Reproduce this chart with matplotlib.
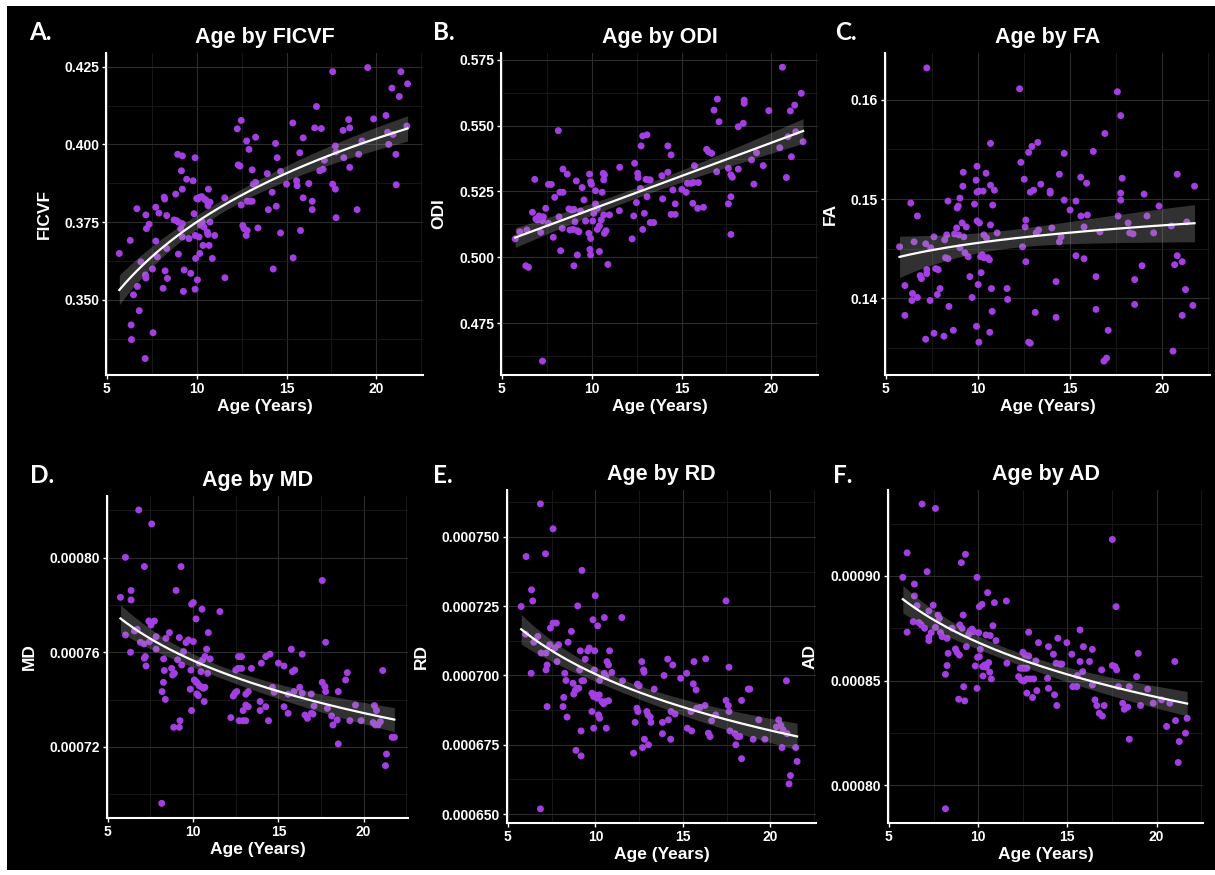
import numpy as np
import matplotlib
matplotlib.use('Agg')
import matplotlib.pyplot as plt
from matplotlib.patches import Rectangle
from matplotlib.ticker import MultipleLocator, FormatStrFormatter

# Points: (age in years, metric value)
ficvf_pts = [
    (5.69, 0.3649), (6.30, 0.3691), (6.48, 0.3516), (6.35, 0.3419), (6.37, 0.3372), (6.67, 0.3793),
    (6.70, 0.3543), (6.80, 0.3465), (6.89, 0.3622), (7.13, 0.3311), (7.17, 0.3773), (7.20, 0.3729),
    (7.35, 0.3743), (7.15, 0.3580), (7.17, 0.3570), (7.54, 0.3599), (7.57, 0.3394), (7.72, 0.3798),
    (7.72, 0.3689), (7.81, 0.3638), (7.90, 0.3779), (8.13, 0.3537), (8.19, 0.3830), (8.22, 0.3824),
    (8.24, 0.3593), (8.33, 0.3771), (8.37, 0.3569), (8.33, 0.3665), (8.74, 0.3757), (8.87, 0.3755),
    (8.98, 0.3750), (8.83, 0.3840), (8.94, 0.3968), (8.98, 0.3647), (9.11, 0.3729), (9.15, 0.3915),
    (9.20, 0.3963), (9.20, 0.3856), (9.20, 0.3745), (9.20, 0.3702), (9.26, 0.3527), (9.30, 0.3596),
    (9.44, 0.3888), (9.57, 0.3697), (9.67, 0.3585), (9.80, 0.3883), (9.91, 0.3957), (9.85, 0.3777),
    (9.91, 0.3707), (9.94, 0.3633), (9.91, 0.3534), (10.00, 0.3826), (10.07, 0.3824), (10.17, 0.3830),
    (10.28, 0.3832), (10.04, 0.3564), (10.13, 0.3702), (10.17, 0.3649), (10.22, 0.3740), (10.31, 0.3750),
    (10.41, 0.3734), (10.35, 0.3675), (10.44, 0.3824), (10.54, 0.3819), (10.59, 0.3718), (10.63, 0.3710),
    (10.65, 0.3856), (10.63, 0.3803), (10.69, 0.3675), (10.74, 0.3750), (10.74, 0.3814), (10.87, 0.3633),
    (11.00, 0.3707), (11.56, 0.3828), (11.57, 0.3571), (12.26, 0.4050), (12.31, 0.3934), (12.41, 0.3930),
    (12.48, 0.4077), (12.48, 0.3805), (12.57, 0.3739), (12.63, 0.3729), (12.78, 0.4011), (12.76, 0.3707),
    (12.81, 0.3723), (12.91, 0.3984), (12.81, 0.3817), (12.96, 0.3817), (13.09, 0.3817), (13.09, 0.3918),
    (13.15, 0.3872), (13.28, 0.3878), (13.28, 0.4023), (13.41, 0.3731), (13.93, 0.3906), (13.99, 0.3790),
    (14.20, 0.3846), (14.26, 0.3599), (14.39, 0.4003), (14.43, 0.3801), (14.48, 0.3957), (14.67, 0.3913),
    (14.67, 0.3715), (15.00, 0.3872), (15.35, 0.4069), (15.37, 0.3635), (15.56, 0.3883), (15.59, 0.3867),
    (15.74, 0.3973), (15.78, 0.3723), (15.93, 0.4021), (15.93, 0.3828), (16.24, 0.3874), (16.43, 0.3817),
    (16.43, 0.3790), (16.57, 0.4053), (16.67, 0.4122), (16.85, 0.3915), (16.94, 0.4051), (17.04, 0.3920),
    (17.11, 0.3949), (17.57, 0.4234), (17.57, 0.3872), (17.72, 0.3856), (17.72, 0.3995), (17.76, 0.3976),
    (17.76, 0.3764), (18.15, 0.4045), (18.19, 0.3957), (18.46, 0.4080), (18.52, 0.4053), (18.52, 0.3926),
    (18.93, 0.3790), (19.02, 0.3968), (19.20, 0.4011), (19.52, 0.4247), (19.85, 0.4082), (20.54, 0.4093),
    (20.63, 0.4039), (20.69, 0.4000), (20.87, 0.4181), (20.93, 0.4032), (21.09, 0.3968), (21.11, 0.3870),
    (21.28, 0.4154), (21.37, 0.4234), (21.74, 0.4195), (21.70, 0.4059),
]

odi_pts = [
    (5.74, 0.5070), (6.00, 0.5097), (6.33, 0.4968), (6.48, 0.4962), (6.39, 0.5104), (6.70, 0.5171),
    (6.83, 0.5296), (6.89, 0.5146), (6.98, 0.5142), (7.07, 0.5157), (7.16, 0.5152), (7.25, 0.5139),
    (7.31, 0.5154), (7.16, 0.5095), (7.44, 0.5186), (7.59, 0.5277), (7.75, 0.5277), (7.59, 0.5129),
    (7.86, 0.5076), (7.94, 0.5228), (8.14, 0.5481), (8.18, 0.5154), (8.23, 0.5247), (8.40, 0.5247),
    (8.27, 0.5025), (8.36, 0.5110), (8.40, 0.5335), (8.64, 0.5316), (8.73, 0.5184), (8.88, 0.5180),
    (9.01, 0.5182), (8.79, 0.5104), (8.97, 0.5106), (9.07, 0.5135), (9.14, 0.5290), (9.20, 0.5009),
    (9.01, 0.4968), (9.20, 0.5101), (9.29, 0.5097), (9.38, 0.5176), (9.47, 0.5265), (9.57, 0.5218),
    (9.66, 0.5138), (9.84, 0.5091), (9.94, 0.5072), (9.88, 0.5316), (9.94, 0.5287), (9.99, 0.5277),
    (9.90, 0.5030), (9.94, 0.5009), (10.06, 0.5138), (10.12, 0.5167), (10.21, 0.5253), (10.21, 0.5203),
    (10.31, 0.5186), (10.31, 0.5106), (10.43, 0.5022), (10.43, 0.5120), (10.53, 0.5142), (10.58, 0.5247),
    (10.64, 0.5319), (10.71, 0.5313), (10.67, 0.5294), (10.67, 0.5161), (10.71, 0.5091), (10.80, 0.5101),
    (10.90, 0.4973), (10.99, 0.5161), (11.54, 0.5177), (11.56, 0.5342), (12.25, 0.5070), (12.34, 0.5157),
    (12.39, 0.5357), (12.49, 0.5208), (12.56, 0.5319), (12.58, 0.5303), (12.71, 0.5262), (12.75, 0.5423),
    (12.84, 0.5461), (13.08, 0.5465), (12.84, 0.5106), (12.93, 0.5167), (13.02, 0.5296), (13.17, 0.5294),
    (13.08, 0.5230), (13.26, 0.5294), (13.26, 0.5132), (13.45, 0.5132), (13.91, 0.5310), (13.95, 0.5222),
    (14.24, 0.5423), (14.42, 0.5389), (14.42, 0.5163), (14.65, 0.5163), (14.52, 0.5256), (14.65, 0.5203),
    (14.24, 0.5323), (15.02, 0.5258), (15.26, 0.5247), (15.33, 0.5281), (15.54, 0.5281), (15.67, 0.5284),
    (15.94, 0.5284), (15.63, 0.5205), (15.72, 0.5348), (15.90, 0.5186), (16.22, 0.5190), (16.40, 0.5410),
    (16.50, 0.5401), (16.68, 0.5395), (16.81, 0.5559), (16.96, 0.5325), (17.00, 0.5601), (17.09, 0.5515),
    (17.61, 0.5338), (17.61, 0.5203), (17.75, 0.5313), (17.83, 0.5304), (17.75, 0.5230), (17.75, 0.5087),
    (18.16, 0.5496), (18.44, 0.5509), (18.49, 0.5597), (18.49, 0.5585), (18.16, 0.5335), (18.90, 0.5370),
    (19.03, 0.5278), (19.18, 0.5397), (19.55, 0.5348), (19.86, 0.5557), (20.47, 0.5416), (20.62, 0.5722),
    (20.84, 0.5303), (20.93, 0.5458), (21.06, 0.5556), (21.30, 0.5578), (21.12, 0.5382), (21.36, 0.5477),
    (21.67, 0.5623), (21.77, 0.5439), (7.26, 0.4606),
]

fa_pts = [
    (5.74, 0.1452), (6.03, 0.1413), (6.03, 0.1383), (6.35, 0.1496), (6.44, 0.1405), (6.41, 0.1398),
    (6.53, 0.1457), (6.71, 0.1401), (6.71, 0.1483), (6.86, 0.1423), (6.93, 0.1420), (7.16, 0.1455),
    (7.22, 0.1632), (7.22, 0.1429), (7.22, 0.1425), (7.16, 0.1359), (7.43, 0.1451), (7.40, 0.1398),
    (7.61, 0.1462), (7.61, 0.1365), (7.70, 0.1430), (7.84, 0.1429), (7.79, 0.1404), (7.94, 0.1410),
    (8.15, 0.1362), (8.19, 0.1459), (8.30, 0.1464), (8.24, 0.1441), (8.37, 0.1440), (8.37, 0.1498),
    (8.42, 0.1392), (8.66, 0.1368), (8.84, 0.1471), (8.87, 0.1491), (8.93, 0.1493), (8.73, 0.1465),
    (8.96, 0.1464), (9.02, 0.1501), (9.02, 0.1451), (9.14, 0.1476), (9.18, 0.1513), (9.20, 0.1527),
    (9.23, 0.1462), (9.29, 0.1446), (9.36, 0.1472), (9.47, 0.1442), (9.56, 0.1422), (9.68, 0.1401),
    (9.81, 0.1495), (9.90, 0.1519), (9.95, 0.1533), (9.92, 0.1372), (9.95, 0.1507), (10.05, 0.1508),
    (9.95, 0.1478), (10.08, 0.1476), (10.01, 0.1414), (10.05, 0.1356), (10.14, 0.1442), (10.23, 0.1444),
    (10.32, 0.1441), (10.17, 0.1426), (10.28, 0.1508), (10.32, 0.1464), (10.44, 0.1526), (10.46, 0.1461),
    (10.53, 0.1441), (10.62, 0.1439), (10.64, 0.1366), (10.68, 0.1556), (10.68, 0.1514), (10.68, 0.1474),
    (10.73, 0.1410), (10.77, 0.1387), (10.80, 0.1494), (10.89, 0.1509), (11.04, 0.1466), (11.58, 0.1410),
    (11.61, 0.1399), (12.26, 0.1611), (12.33, 0.1537), (12.42, 0.1452), (12.51, 0.1520), (12.56, 0.1472),
    (12.60, 0.1479), (12.60, 0.1437), (12.75, 0.1547), (12.75, 0.1356), (12.84, 0.1355), (12.84, 0.1507),
    (12.93, 0.1553), (13.02, 0.1509), (13.11, 0.1386), (13.16, 0.1466), (13.25, 0.1557), (13.29, 0.1469),
    (13.41, 0.1515), (13.92, 0.1508), (13.92, 0.1506), (14.01, 0.1471), (14.24, 0.1417), (14.24, 0.1381),
    (14.42, 0.1525), (14.42, 0.1457), (14.51, 0.1462), (14.68, 0.1546), (14.68, 0.1499), (15.00, 0.1489),
    (15.32, 0.1498), (15.32, 0.1443), (15.58, 0.1522), (15.59, 0.1483), (15.76, 0.1472), (15.76, 0.1440),
    (15.90, 0.1516), (15.94, 0.1484), (16.26, 0.1548), (16.41, 0.1422), (16.41, 0.1389), (16.62, 0.1467),
    (16.89, 0.1566), (16.84, 0.1337), (16.98, 0.1340), (17.07, 0.1368), (17.57, 0.1608), (17.61, 0.1483),
    (17.75, 0.1584), (17.75, 0.1506), (17.75, 0.1499), (17.83, 0.1521), (18.15, 0.1476), (18.24, 0.1466),
    (18.42, 0.1465), (18.51, 0.1419), (18.51, 0.1394), (18.91, 0.1433), (19.02, 0.1505), (19.18, 0.1483),
    (19.54, 0.1466), (19.83, 0.1493), (20.50, 0.1473), (20.59, 0.1347), (20.68, 0.1434), (20.82, 0.1443),
    (20.82, 0.1525), (21.09, 0.1437), (21.09, 0.1383), (21.27, 0.1409), (21.34, 0.1477), (21.67, 0.1393),
    (21.76, 0.1513),
]

# diffusivities below are in units of 1e-4
md_pts = [
    (5.74, 7.832), (6.03, 7.673), (6.03, 8.001), (6.33, 7.600), (6.36, 7.861), (6.36, 7.821),
    (6.56, 7.690), (6.72, 7.697), (6.81, 8.201), (6.91, 7.642), (7.11, 7.635), (7.14, 7.962),
    (7.14, 7.575), (7.20, 7.582), (7.24, 7.542), (7.40, 7.732), (7.53, 7.715), (7.73, 7.732),
    (7.44, 7.645), (7.57, 8.142), (7.83, 7.613), (7.83, 7.666), (8.18, 7.434), (8.26, 7.473),
    (8.27, 7.572), (8.31, 7.523), (8.37, 7.401), (8.41, 7.659), (8.16, 6.962), (8.61, 7.683),
    (8.74, 7.532), (8.80, 7.504), (8.90, 7.511), (8.86, 7.283), (9.19, 7.283), (9.00, 7.861),
    (9.09, 7.568), (9.19, 7.662), (9.23, 7.311), (9.29, 7.962), (9.33, 7.546), (9.44, 7.603),
    (9.58, 7.641), (9.72, 7.652), (9.83, 7.444), (9.87, 7.525), (9.91, 7.354), (9.91, 7.803),
    (10.01, 7.810), (10.01, 7.645), (10.07, 7.483), (10.17, 7.476), (10.26, 7.469), (10.36, 7.458),
    (10.46, 7.455), (10.60, 7.448), (10.69, 7.452), (10.17, 7.741), (10.22, 7.424), (10.30, 7.417),
    (10.36, 7.554), (10.46, 7.518), (10.52, 7.782), (10.56, 7.568), (10.69, 7.582), (10.65, 7.392),
    (10.79, 7.613), (10.89, 7.683), (10.85, 7.511), (11.00, 7.572), (11.57, 7.772), (12.21, 7.324),
    (12.35, 7.415), (12.45, 7.427), (12.56, 7.434), (12.50, 7.525), (12.64, 7.532), (12.84, 7.532),
    (12.66, 7.582), (12.84, 7.582), (12.70, 7.311), (12.93, 7.311), (13.09, 7.311), (12.93, 7.354),
    (13.09, 7.423), (13.23, 7.434), (13.09, 7.377), (13.23, 7.370), (13.42, 7.532), (13.93, 7.392),
    (13.93, 7.354), (14.00, 7.554), (14.26, 7.582), (14.51, 7.592), (14.26, 7.370), (14.42, 7.311),
    (14.65, 7.452), (14.75, 7.431), (15.00, 7.554), (15.33, 7.542), (15.33, 7.370), (15.57, 7.342),
    (15.57, 7.423), (15.76, 7.613), (15.82, 7.518), (15.96, 7.525), (15.92, 7.434), (16.25, 7.452),
    (16.40, 7.592), (16.40, 7.427), (16.56, 7.335), (16.70, 7.321), (16.93, 7.342), (17.03, 7.339),
    (16.93, 7.424), (17.09, 7.373), (17.57, 7.903), (17.57, 7.473), (17.73, 7.455), (17.77, 7.434),
    (17.77, 7.642), (17.87, 7.363), (18.12, 7.331), (18.20, 7.293), (18.45, 7.314), (18.51, 7.213),
    (18.51, 7.434), (18.94, 7.483), (19.04, 7.514), (19.19, 7.311), (19.52, 7.377), (19.85, 7.311),
    (20.63, 7.375), (20.75, 7.354), (20.85, 7.293), (20.56, 7.303), (20.69, 7.293), (20.98, 7.307),
    (21.12, 7.523), (21.28, 7.121), (21.34, 7.170), (21.67, 7.241), (21.80, 7.241),
]

rd_pts = [
    (5.76, 7.249), (6.04, 7.429), (6.01, 7.149), (6.35, 7.309), (6.42, 7.269), (6.33, 7.008),
    (6.48, 7.120), (6.71, 7.141), (6.86, 7.619), (6.90, 7.081), (7.18, 7.081), (7.15, 7.439),
    (7.18, 7.020), (7.24, 7.038), (7.24, 6.888), (7.43, 7.171), (7.58, 7.189), (7.77, 7.189),
    (7.58, 7.529), (7.39, 7.111), (7.68, 7.099), (7.90, 7.111), (7.81, 7.050), (8.15, 6.888),
    (8.19, 6.921), (8.25, 7.008), (8.32, 6.982), (8.38, 6.850), (8.44, 7.120), (8.63, 7.159),
    (8.72, 6.972), (8.85, 6.946), (8.76, 6.933), (8.89, 6.730), (8.99, 7.251), (8.95, 6.954),
    (9.05, 6.954), (9.10, 7.020), (9.14, 7.089), (9.18, 6.800), (9.18, 6.710), (9.23, 7.379),
    (9.23, 6.981), (9.33, 6.981), (9.42, 7.059), (9.56, 7.089), (9.65, 7.099), (9.80, 6.870),
    (9.80, 6.936), (9.90, 6.924), (9.99, 6.930), (10.09, 6.918), (10.22, 6.930), (9.86, 7.201),
    (9.90, 6.810), (9.94, 7.020), (9.99, 7.288), (9.96, 7.089), (10.13, 7.179), (10.18, 6.858),
    (10.24, 6.846), (10.24, 6.982), (10.37, 6.906), (10.47, 6.898), (10.60, 6.906), (10.75, 6.909),
    (10.51, 7.209), (10.51, 7.008), (10.60, 6.996), (10.62, 6.810), (10.66, 7.050), (10.75, 7.038),
    (10.81, 7.089), (10.94, 7.011), (11.51, 7.209), (11.55, 6.981), (12.18, 6.720), (12.27, 6.831),
    (12.37, 6.882), (12.43, 6.870), (12.40, 6.969), (12.50, 6.963), (12.65, 7.050), (12.69, 6.740),
    (12.75, 7.020), (12.78, 7.012), (12.80, 6.770), (13.03, 6.750), (12.94, 6.870), (13.00, 6.858),
    (13.13, 6.850), (13.17, 6.831), (13.36, 6.951), (13.83, 6.831), (13.83, 6.790), (13.92, 7.000),
    (14.13, 7.059), (14.17, 6.840), (14.30, 6.770), (14.32, 6.870), (14.55, 6.861), (14.42, 7.038),
    (14.87, 6.990), (15.21, 7.008), (15.25, 6.810), (15.50, 6.800), (15.59, 6.970), (15.63, 7.050),
    (15.75, 6.948), (15.46, 6.870), (15.78, 6.882), (15.97, 6.885), (16.26, 6.892), (16.30, 7.060),
    (16.45, 6.792), (16.55, 6.780), (16.64, 6.837), (16.87, 6.858), (17.46, 7.269), (17.46, 6.910),
    (17.59, 6.892), (17.63, 7.030), (17.63, 6.870), (17.68, 6.800), (17.97, 6.790), (18.10, 6.780),
    (18.25, 6.780), (18.02, 6.750), (18.35, 6.910), (18.35, 6.700), (18.73, 6.951), (18.82, 6.951),
    (19.01, 6.770), (19.33, 6.840), (19.68, 6.770), (20.34, 6.814), (20.47, 6.840), (20.59, 6.820),
    (20.72, 6.804), (20.66, 6.740), (20.91, 6.981), (20.95, 6.790), (21.06, 6.609), (21.14, 6.639),
    (21.44, 6.740), (21.52, 6.690), (6.86, 6.519),
]

ad_pts = [
    (5.78, 8.993), (6.02, 9.110), (6.02, 8.731), (6.36, 8.781), (6.43, 8.961), (6.43, 8.904),
    (6.58, 8.858), (6.68, 8.777), (6.81, 8.766), (7.00, 8.750), (6.86, 9.343), (7.14, 9.020),
    (7.24, 8.707), (7.24, 8.691), (7.24, 8.832), (7.37, 8.729), (7.48, 8.860), (7.61, 9.322),
    (7.61, 8.754), (7.76, 8.813), (7.83, 8.797), (7.89, 8.729), (7.98, 8.710), (8.17, 8.530),
    (8.26, 8.702), (8.26, 8.572), (8.32, 8.630), (8.17, 7.888), (8.54, 8.750), (8.73, 8.651),
    (8.82, 8.635), (8.95, 8.622), (8.91, 8.411), (8.97, 8.766), (9.10, 8.750), (9.06, 9.063),
    (9.16, 8.813), (9.19, 8.471), (9.25, 8.403), (9.29, 9.103), (9.34, 8.662), (9.47, 8.721),
    (9.56, 8.738), (9.66, 8.746), (9.75, 8.734), (9.84, 8.570), (9.94, 8.993), (9.94, 8.463),
    (9.97, 8.611), (10.07, 8.614), (10.03, 8.729), (10.07, 8.853), (10.22, 8.864), (10.12, 8.649),
    (10.25, 8.567), (10.37, 8.575), (10.46, 8.564), (10.27, 8.522), (10.44, 8.718), (10.53, 8.920),
    (10.59, 8.586), (10.65, 8.540), (10.68, 8.715), (10.74, 8.508), (10.83, 8.762), (10.91, 8.872),
    (11.00, 8.691), (11.58, 8.880), (11.61, 8.583), (12.27, 8.519), (12.36, 8.559), (12.49, 8.559),
    (12.60, 8.559), (12.73, 8.559), (12.42, 8.503), (12.55, 8.498), (12.73, 8.508), (12.51, 8.635),
    (12.64, 8.622), (12.83, 8.618), (12.73, 8.440), (12.83, 8.731), (12.92, 8.508), (13.11, 8.508),
    (13.05, 8.419), (13.24, 8.594), (13.29, 8.452), (13.38, 8.681), (13.89, 8.511), (13.94, 8.662),
    (13.94, 8.463), (14.22, 8.626), (14.28, 8.432), (14.41, 8.381), (14.47, 8.702), (14.37, 8.583),
    (14.60, 8.579), (14.69, 8.579), (14.97, 8.681), (15.25, 8.626), (15.30, 8.471), (15.53, 8.471),
    (15.56, 8.524), (15.71, 8.742), (15.71, 8.591), (15.86, 8.543), (15.90, 8.662), (16.24, 8.591),
    (16.40, 8.649), (16.40, 8.479), (16.55, 8.408), (16.65, 8.381), (16.79, 8.344), (16.96, 8.331),
    (16.92, 8.551), (17.06, 8.381), (17.52, 9.174), (17.52, 8.572), (17.67, 8.567), (17.76, 8.551),
    (17.73, 8.853), (17.86, 8.471), (18.10, 8.392), (18.19, 8.363), (18.38, 8.373), (18.47, 8.471),
    (18.47, 8.220), (18.88, 8.519), (18.97, 8.630), (19.10, 8.381), (19.50, 8.459), (19.81, 8.392),
    (20.28, 8.408), (20.74, 8.392), (20.56, 8.281), (21.02, 8.591), (21.06, 8.309), (21.27, 8.209),
    (21.21, 8.109), (21.62, 8.249), (21.71, 8.320),
]

letters = ['A.', 'B.', 'C.', 'D.', 'E.', 'F.']
metrics = ['FICVF', 'ODI', 'FA', 'MD', 'RD', 'AD']
scales = [1, 1, 1, 1e-4, 1e-4, 1e-4]
# ODI is fit on age directly, the rest on log(age)
log_fit = [True, False, True, True, True, True]
y_limits = [(0.3258, 0.4294), (0.4553, 0.5776), (0.1323, 0.1647),
            (0.000690, 0.000826), (0.0006468, 0.0007669), (0.000782, 0.000941)]
y_steps = [0.025, 0.025, 0.01, 0.00004, 0.000025, 0.00005]
y_fmts = ['%.3f', '%.3f', '%.2f', '%.5f', '%.6f', '%.5f']

W, H = 1215, 875
# panel boxes in pixels: x0, x1, top, bottom
boxes = [(106, 423, 53, 375), (501, 818, 53, 375), (885, 1210, 53, 375),
         (107, 408, 496, 818), (507, 816, 490, 823), (888, 1203, 490, 823)]
letter_pos = [(29, 40), (433, 40), (835, 40), (30, 483), (433, 483), (833, 483)]

PURPLE = '#A33FE2'
FONT = 'Liberation Sans'

fig = plt.figure(figsize=(W / 100, H / 100), dpi=100, facecolor='white')
fig.patches.append(Rectangle((7 / W, 5 / H), (W - 7) / W, 864 / H,
                             transform=fig.transFigure, facecolor='black',
                             edgecolor='none', zorder=-10))

all_pts = [ficvf_pts, odi_pts, fa_pts, md_pts, rd_pts, ad_pts]

for i, pts in enumerate(all_pts):
    x0, x1, top, bot = boxes[i]
    ax = fig.add_axes([x0 / W, 1 - bot / H, (x1 - x0) / W, (bot - top) / H])
    ax.set_facecolor('black')

    arr = np.array(pts)
    age = arr[:, 0]
    val = arr[:, 1] * scales[i]

    ax.scatter(age, val, s=25, color=PURPLE, edgecolors='none', zorder=3)

    # linear model with 95% confidence band
    tx = np.log(age) if log_fit[i] else age
    b, a = np.polyfit(tx, val, 1)
    n = len(age)
    resid = val - (a + b * tx)
    s = np.sqrt(np.sum(resid ** 2) / (n - 2))
    sxx = np.sum((tx - tx.mean()) ** 2)
    xs = np.linspace(age.min(), age.max(), 200)
    txs = np.log(xs) if log_fit[i] else xs
    fit = a + b * txs
    se = s * np.sqrt(1 / n + (txs - tx.mean()) ** 2 / sxx)
    ax.fill_between(xs, fit - 1.975 * se, fit + 1.975 * se, color='#999999',
                    alpha=0.32, linewidth=0, zorder=4)
    ax.plot(xs, fit, color='white', lw=1.6, zorder=5)

    ax.set_xlim(4.95, 22.6)
    ax.set_ylim(*y_limits[i])
    ax.xaxis.set_major_locator(MultipleLocator(5))
    ax.xaxis.set_minor_locator(MultipleLocator(2.5))
    ax.yaxis.set_major_locator(MultipleLocator(y_steps[i]))
    ax.yaxis.set_minor_locator(MultipleLocator(y_steps[i] / 2))
    ax.yaxis.set_major_formatter(FormatStrFormatter(y_fmts[i]))

    ax.grid(which='major', color='#2c2c2c', lw=0.8, zorder=0)
    ax.grid(which='minor', color='#1b1b1b', lw=0.6, zorder=0)
    ax.set_axisbelow(True)

    for side in ['top', 'right']:
        ax.spines[side].set_visible(False)
    for side in ['left', 'bottom']:
        ax.spines[side].set_color('white')
        ax.spines[side].set_linewidth(1.5)

    ax.tick_params(which='major', colors='white', length=3, width=1, pad=2)
    ax.tick_params(which='minor', length=0)
    for lab in ax.get_xticklabels() + ax.get_yticklabels():
        lab.set_fontfamily(FONT)
        lab.set_fontweight('bold')
        lab.set_fontsize(10)

    ax.set_title('Age by ' + metrics[i], color='white', fontsize=15.5,
                 fontweight='bold', family=FONT, pad=7)
    ax.set_xlabel('Age (Years)', color='white', fontsize=12.5,
                  fontweight='bold', family=FONT, labelpad=2)
    ax.set_ylabel(metrics[i], color='white', fontsize=12.5,
                  fontweight='bold', family=FONT, labelpad=9)

    lx_px, ly_px = letter_pos[i]
    fig.text(lx_px / W, 1 - ly_px / H, letters[i], color='white', fontsize=17.5,
             fontweight='bold', family='Lato', ha='left', va='baseline')

fig.savefig('out.png', dpi=100, facecolor=fig.get_facecolor())
